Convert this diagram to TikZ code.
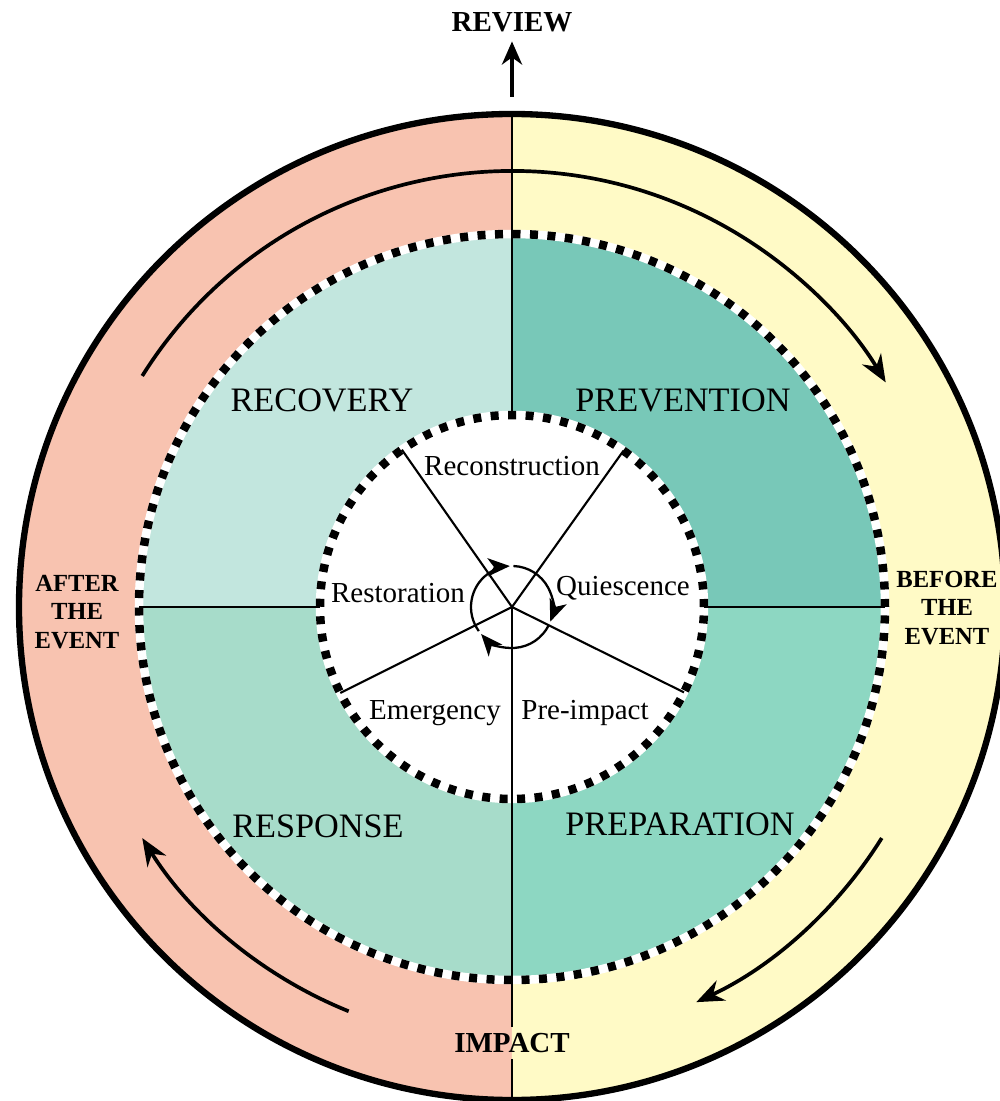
\documentclass[tikz,border=0pt]{standalone}
\usepackage{fontspec}
\setmainfont{Liberation Serif}
\usetikzlibrary{positioning, arrows.meta, calc}

\definecolor{aftercol}{HTML}{F8C3B0}
\definecolor{beforecol}{HTML}{FFFAC6}
\definecolor{recoverycol}{HTML}{C2E6DE}
\definecolor{preventioncol}{HTML}{78C8B8}
\definecolor{responsecol}{HTML}{A7DCCA}
\definecolor{preparationcol}{HTML}{8DD7C2}

\begin{document}
\begin{tikzpicture}[
			>={Stealth[length=5.5mm, width=4.4mm, inset=1.8mm]},
			% Define styles for the rings and texts
			phase_text/.style={
				font=\fontsize{19.5}{22}\selectfont
			},
			stage_text/.style={
				font=\fontsize{16.5}{19}\selectfont, inner sep=1pt
			},
			side_text/.style={
				font=\fontsize{14}{16}\selectfont\bfseries, 
				align=center
			},
			mark_text/.style={
				font=\fontsize{16.5}{19}\selectfont\bfseries
			},
			dot_ring/.style={
				line width=1.7mm, 
				dash pattern=on 1.6mm off 1.9mm
			},
			cycle_arrow/.style={
				->, line width=2.1pt
			},
			small_arrow/.style={
				-{Stealth[length=4.4mm, width=3.6mm, inset=1.2mm]}, line width=1.3pt
			},
			divider/.style={
				line width=1.2pt
			}
			]
			
			% --- 0. CANVAS ---
			\useasboundingbox (-10.24,-9.88) rectangle (9.76,12.14);
			\fill[white] (-10.24,-9.88) rectangle (9.76,12.14);
			\clip (-10.24,-9.88) rectangle (9.76,12.14);
			
			\coordinate (hub) at (0,0);
			
			% --- 1. OUTER RING (after / before) ---
			\fill[aftercol] (0,9.86) arc[start angle=90, end angle=270, radius=9.86] -- cycle;
			\fill[beforecol] (0,9.86) arc[start angle=90, end angle=-90, radius=9.86] -- cycle;
			\draw[line width=3.6pt] (hub) circle (9.86);
			
			% --- 2. MIDDLE RING (four phases) ---
			\fill[recoverycol] (hub) -- (0,7.46) arc[start angle=90, end angle=180, radius=7.46] -- cycle;
			\fill[preventioncol] (hub) -- (0,7.46) arc[start angle=90, end angle=0, radius=7.46] -- cycle;
			\fill[responsecol] (hub) -- (0,-7.46) arc[start angle=270, end angle=180, radius=7.46] -- cycle;
			\fill[preparationcol] (hub) -- (0,-7.46) arc[start angle=-90, end angle=0, radius=7.46] -- cycle;
			
			% --- 3. INNER DISC (stages) ---
			\fill[white] (hub) circle (3.84);
			
			% Dotted borders
			\draw[white, line width=1.7mm] (hub) circle (7.46);
			\draw[dot_ring] (hub) circle (7.46);
			\draw[white, line width=1.7mm] (hub) circle (3.84);
			\draw[dot_ring] (hub) circle (3.84);
			
			% --- 4. LABELS ---
			\node[mark_text] (review) at (0,11.7) {REVIEW};
			\node[mark_text] (impact) at (0,-8.72) {IMPACT};
			\node[side_text] (after) at (-8.7,-0.1) {AFTER\\THE\\EVENT};
			\node[side_text] (before) at (8.7,-0.02) {BEFORE\\THE\\EVENT};
			
			\node[phase_text] (recovery) at (-3.8,4.14) {RECOVERY};
			\node[phase_text] (prevention) at (3.42,4.14) {PREVENTION};
			\node[phase_text] (response) at (-3.88,-4.38) {RESPONSE};
			\node[phase_text] (preparation) at (3.36,-4.34) {PREPARATION};
			
			\node[stage_text] (reconstruction) at (0,2.82) {Reconstruction};
			\node[stage_text] (restoration) at (-2.28,0.28) {Restoration};
			\node[stage_text] (quiescence) at (2.22,0.38) {Quiescence};
			\node[stage_text] (emergency) at (-1.54,-2.12) {Emergency};
			\node[stage_text] (preimpact) at (1.46,-2.12) {Pre-impact};
			
			% --- 5. DIVIDERS ---
			\coordinate (top_end) at (0,9.86);
			\coordinate (bottom_end) at (0,-9.86);
			\draw[divider] (top_end) -- (0,3.84);
			\draw[divider] (hub) -- (impact.north);
			\draw[divider] (impact.south) -- (bottom_end);
			\draw[divider] (-7.46,0) -- (-3.84,0);
			\draw[divider] (3.84,0) -- (7.46,0);
			
			% Spokes of the inner disc
			\foreach \ang in {125, 54.5, 206.6, -26.4}
			\draw[divider] (hub) -- (\ang:3.84);
			
			% Small cycle at the hub
			\draw[small_arrow] (216:0.82) arc[start angle=216, end angle=93, radius=0.82];
			\draw[small_arrow] (88:0.82) arc[start angle=88, end angle=-21, radius=0.82];
			\draw[small_arrow] (-26:0.82) arc[start angle=-26, end angle=-139, radius=0.82];
			
			% --- 6. CYCLE ARROWS ---
			\draw[cycle_arrow] (148:8.72) arc[start angle=148, end angle=31, radius=8.72];
			\draw[cycle_arrow] (-32:8.72) arc[start angle=-32, end angle=-65, radius=8.72];
			\draw[cycle_arrow] (248:8.72) arc[start angle=248, end angle=212, radius=8.72];
			
			\coordinate (review_base) at (0,10.2);
			\draw[cycle_arrow, line width=2.6pt, -{Stealth[length=4.6mm, width=4mm, inset=1.4mm]}, shorten >=2pt] (review_base) -- (review.south);
			
		\end{tikzpicture}
\end{document}
